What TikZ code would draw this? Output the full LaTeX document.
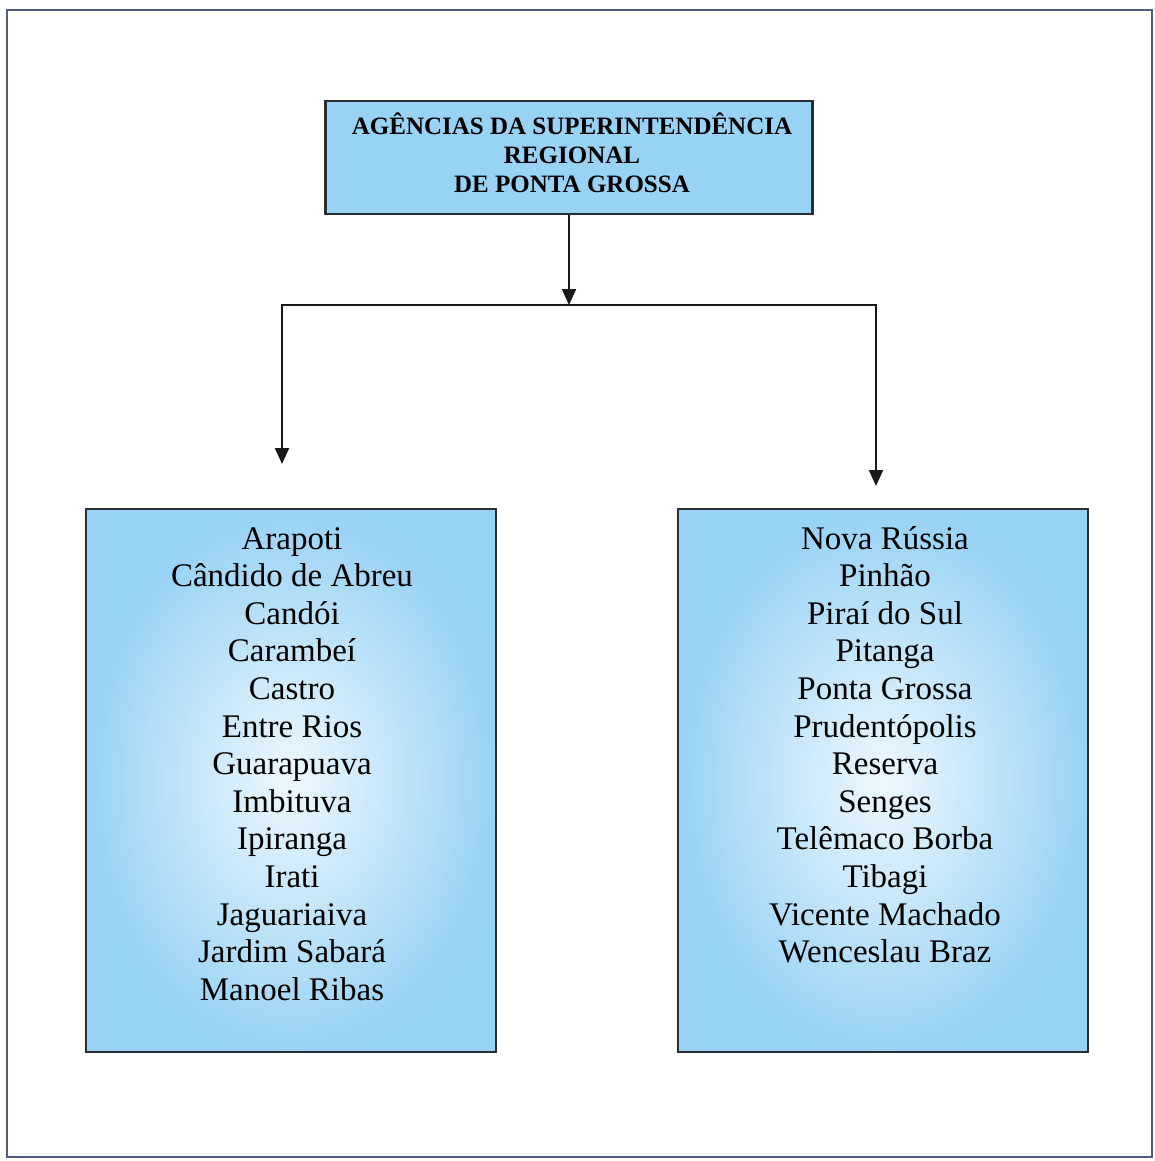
\documentclass[tikz,border=0pt]{standalone}
\usepackage{fontspec}
\setmainfont{Liberation Serif}
\usetikzlibrary{arrows.meta}
\definecolor{boxblue}{HTML}{98D2F5}
\definecolor{boxpale}{HTML}{EEF8FD}
\definecolor{edgegray}{HTML}{2A2E33}
\definecolor{framecol}{HTML}{4F5C7E}
\tikzset{
  headbox/.style={draw=edgegray, line width=2.3pt, fill=boxblue, minimum width=487pt, minimum height=113pt, inner sep=0pt},
  listbox/.style={draw=edgegray, line width=2.3pt, inner color=boxpale, outer color=boxblue, minimum width=410pt, minimum height=543pt, inner sep=0pt},
  headtext/.style={font=\fontsize{25}{29}\selectfont\bfseries, text=black, anchor=base, inner sep=0pt},
  listtext/.style={font=\fontsize{33}{37.5}\selectfont, text=black, anchor=base, inner sep=0pt},
  flow/.style={draw=black!90, line width=2.2pt, -{Triangle[length=16pt,width=14pt]}},
}
\begin{document}
\begin{tikzpicture}[x=1pt,y=-1pt]
  \useasboundingbox (0,0) rectangle (1154,1161);
  \fill[white] (0,0) rectangle (1154,1161);
  % outer frame
  \draw[framecol, line width=1.4pt] (7,10) rectangle (1152,1157);

  % heading box
  \node[headbox] (T) at (569,157.5) {};
  \node[headtext] (t1) at (572,135) {AGÊNCIAS DA SUPERINTENDÊNCIA};
  \node[headtext] (t2) at (572,164) {REGIONAL};
  \node[headtext] (t3) at (572,193) {DE PONTA GROSSA};

  % list boxes
  \node[listbox] (L) at (291,780.5) {};
  \node[listbox] (R) at (883,780.5) {};

  \foreach \name [count=\i] in {Arapoti,Cândido de Abreu,Candói,Carambeí,Castro,Entre Rios,Guarapuava,Imbituva,Ipiranga,Irati,Jaguariaiva,Jardim Sabará,Manoel Ribas}
    \node[listtext] (l\i) at (292,549+37.6*\i-37.6) {\name};

  \foreach \name [count=\i] in {Nova Rússia,Pinhão,Piraí do Sul,Pitanga,Ponta Grossa,Prudentópolis,Reserva,Senges,Telêmaco Borba,Tibagi,Vicente Machado,Wenceslau Braz}
    \node[listtext] (r\i) at (885,549+37.6*\i-37.6) {\name};

  % connectors
  \coordinate (j) at (569,305);
  \coordinate (la) at (282,464);
  \coordinate (ra) at (876,486);
  \draw[flow] (T.south) -- (j);
  \draw[flow] (j) -| (la);
  \draw[flow] (j) -| (ra);
\end{tikzpicture}
\end{document}
